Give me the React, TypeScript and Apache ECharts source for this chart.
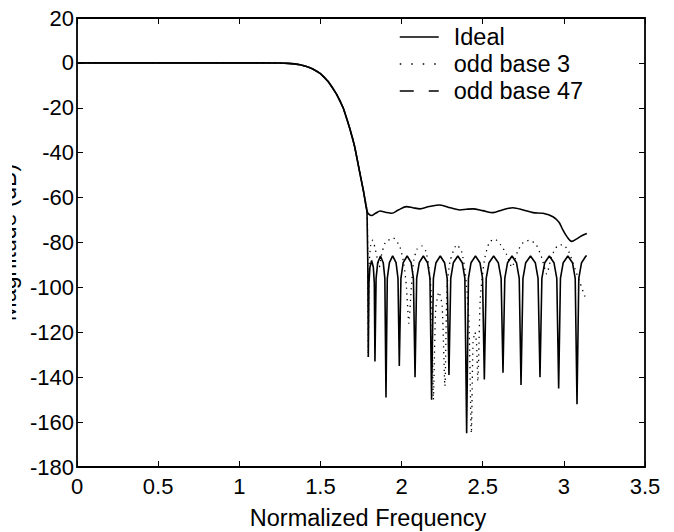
import React, { useEffect, useRef } from "react";
import * as echarts from "echarts";

// ---------- data ----------
const seriesNames = ["Ideal", "odd base 3", "odd base 47"];

// shared passband / transition band
const transitionX = [0, 0.2, 0.4, 0.6, 0.8, 1.0, 1.1, 1.2, 1.25, 1.3, 1.34, 1.374, 1.41, 1.45, 1.5, 1.55, 1.6, 1.64, 1.68, 1.71, 1.74, 1.765, 1.787];
const transitionY = [0, 0, 0, 0, 0, 0, 0, -0.02, -0.07, -0.2, -0.45, -0.8, -1.5, -2.6, -4.8, -8.5, -14, -20, -29, -37, -48, -57, -66];

// Ideal: stopband equiripple lobes with nulls
const idealStopX = [1.792, 1.795, 1.799, 1.805, 1.8155, 1.826, 1.832, 1.836, 1.843, 1.853, 1.87, 1.887, 1.897, 1.904, 1.912, 1.925, 1.945, 1.966, 1.978, 1.986, 1.996, 2.01, 2.0345, 2.059, 2.073, 2.083, 2.093, 2.109, 2.134, 2.16, 2.175, 2.185, 2.196, 2.212, 2.2385, 2.265, 2.281, 2.292, 2.303, 2.319, 2.3465, 2.374, 2.39, 2.401, 2.412, 2.428, 2.4555, 2.483, 2.499, 2.51, 2.5215, 2.539, 2.5675, 2.596, 2.6135, 2.625, 2.636, 2.653, 2.6805, 2.708, 2.725, 2.736, 2.748, 2.765, 2.7945, 2.824, 2.841, 2.853, 2.8645, 2.882, 2.9105, 2.939, 2.9565, 2.968, 2.979, 2.996, 3.0245, 3.053, 3.07, 3.081, 3.092, 3.109, 3.136, 3.1416];
const idealStopY = [-90, -131, -98, -91, -88, -91, -98, -133, -96, -89, -86, -89, -96, -149, -96, -89, -86, -89, -96, -135, -96, -89, -86, -89, -96, -140, -96, -89, -86, -89, -96, -150, -96, -89, -86, -89, -96, -139, -96, -89, -86, -89, -96, -165, -96, -89, -86, -89, -96, -141, -96, -89, -86, -89, -96, -138, -96, -89, -86, -89, -96, -143.5, -96, -89, -86, -89, -96, -140, -96, -89, -86, -89, -96, -145, -96, -89, -86, -89, -96, -152, -96, -89, -86, -86];

// odd base 3 (dotted)
const base3StopX = [1.792, 1.795, 1.8, 1.81, 1.822, 1.835, 1.85, 1.863, 1.875, 1.9, 1.95, 1.99, 2.015, 2.03, 2.045, 2.06, 2.075, 2.095, 2.124, 2.15, 2.17, 2.185, 2.196, 2.21, 2.23, 2.25, 2.267, 2.28, 2.3, 2.34, 2.37, 2.395, 2.415, 2.43, 2.44, 2.452, 2.462, 2.47, 2.485, 2.51, 2.54, 2.575, 2.61, 2.645, 2.68, 2.715, 2.75, 2.79, 2.83, 2.865, 2.894, 2.925, 2.96, 2.995, 3.03, 3.07, 3.1, 3.13, 3.1416];
const base3StopY = [-90, -131, -90, -81, -79, -82, -87, -91, -86, -80, -78, -82, -90, -100, -116, -100, -88, -83, -81.5, -84, -92, -105, -150, -110, -102, -108, -144, -100, -88, -81, -84, -95, -115, -165, -125, -120, -125, -142, -105, -88, -80, -78.5, -81, -85, -91, -84, -80, -79, -81, -87, -94, -86, -81.5, -81, -84, -92, -98, -104, -105];

// odd base 47 (upper stopband curve)
const base47StopX = [1.8, 1.815, 1.84, 1.868, 1.9, 1.939, 1.98, 2.031, 2.07, 2.113, 2.17, 2.236, 2.3, 2.36, 2.4, 2.44, 2.5, 2.563, 2.62, 2.686, 2.75, 2.81, 2.871, 2.933, 2.97, 2.994, 3.02, 3.048, 3.079, 3.11, 3.1416];
const base47StopY = [-67.5, -68, -67, -66, -66.5, -67, -65.5, -64, -64.5, -65, -64, -63.3, -64.5, -65.5, -65.2, -65, -65.8, -66.7, -65.5, -64.5, -65.5, -66.7, -67, -68.5, -71, -74.4, -77.5, -79.5, -78.4, -77, -76];

const pairs = (xs: number[], ys: number[]) => xs.map((x, i) => [x, ys[i]]);
const transition = pairs(transitionX, transitionY);
const idealData = transition.concat(pairs(idealStopX, idealStopY));
const base3Data = transition.concat(pairs(base3StopX, base3StopY));
const base47Data = transition.concat(pairs(base47StopX, base47StopY));

const FONT = "'Liberation Sans', Arial, Helvetica, sans-serif";

export default function App() {
  const ref = useRef<HTMLDivElement>(null);
  useEffect(() => {
    if (!ref.current) return;
    const chart = echarts.init(ref.current, undefined, { renderer: "svg" });
    const axisLine = { show: true, onZero: false, lineStyle: { color: "#000", width: 1.8 } };
    const axisTick = { show: true, inside: true, length: 6, lineStyle: { color: "#000", width: 1 } };
    chart.setOption({
      animation: false,
      backgroundColor: "#fff",
      textStyle: { fontFamily: FONT },
      grid: { left: 65, right: 15, top: 18, bottom: 65, containLabel: false, outerBoundsMode: "none" },
      legend: {
        orient: "vertical",
        left: 387,
        top: 25,
        padding: 0,
        itemGap: 3,
        itemWidth: 39,
        itemHeight: 14,
        itemStyle: { opacity: 0, color: "rgba(0,0,0,0)", borderColor: "rgba(0,0,0,0)", borderWidth: 0 },
        textStyle: { fontSize: 23.5, color: "#000", fontFamily: FONT, padding: [0, 0, 0, 10] },
        data: [
          { name: seriesNames[0], lineStyle: { type: "solid", width: 1.5, color: "#000" } },
          { name: seriesNames[1], lineStyle: { type: [1.5, 10], width: 1.5, color: "#000" } },
          { name: seriesNames[2], lineStyle: { type: [14, 15], width: 1.5, color: "#000" } },
        ],
      },
      xAxis: [
        {
          type: "value",
          min: 0,
          max: 3.5,
          interval: 0.5,
          position: "bottom",
          axisLine,
          axisTick,
          splitLine: { show: false },
          axisLabel: { color: "#000", fontSize: 22, fontFamily: FONT, margin: 8, formatter: (v: number) => String(v) },
          name: "Normalized Frequency",
          nameLocation: "middle",
          nameGap: 39,
          nameTextStyle: { color: "#000", fontSize: 23.5, fontFamily: FONT, padding: [0, 0, 0, 14] },
        },
        {
          type: "value",
          min: 0,
          max: 3.5,
          interval: 0.5,
          position: "top",
          axisLine,
          axisTick,
          splitLine: { show: false },
          axisLabel: { show: false },
        },
      ],
      yAxis: [
        {
          type: "value",
          min: -180,
          max: 20,
          interval: 20,
          position: "left",
          axisLine,
          axisTick,
          splitLine: { show: false },
          axisLabel: { color: "#000", fontSize: 22, fontFamily: FONT, margin: 3 },
          name: "Magnitude (dB)",
          nameLocation: "middle",
          nameRotate: 90,
          nameGap: 34,
          nameTextStyle: { color: "#000", fontSize: 23, fontFamily: FONT },
        },
        {
          type: "value",
          min: -180,
          max: 20,
          interval: 20,
          position: "right",
          axisLine,
          axisTick,
          splitLine: { show: false },
          axisLabel: { show: false },
        },
      ],
      series: [
        {
          name: seriesNames[0],
          type: "line",
          data: idealData,
          symbol: "none",
          lineStyle: { color: "#000", width: 1.6, type: "solid" },
          itemStyle: { color: "#000" },
        },
        {
          name: seriesNames[1],
          type: "line",
          data: base3Data,
          symbol: "none",
          smooth: 0.2,
          lineStyle: { color: "#000", width: 1.3, type: [1.3, 4.5] },
          itemStyle: { color: "#000" },
        },
        {
          name: seriesNames[2],
          type: "line",
          data: base47Data,
          symbol: "none",
          smooth: 0.3,
          lineStyle: { color: "#000", width: 1.6, type: "solid" },
          itemStyle: { color: "#000" },
        },
      ],
    });
    return () => chart.dispose();
  }, []);
  return (
    <div
      ref={ref}
      style={{ position: "absolute", left: 12, top: 0, width: 648, height: 532, background: "#fff" }}
    />
  );
}
